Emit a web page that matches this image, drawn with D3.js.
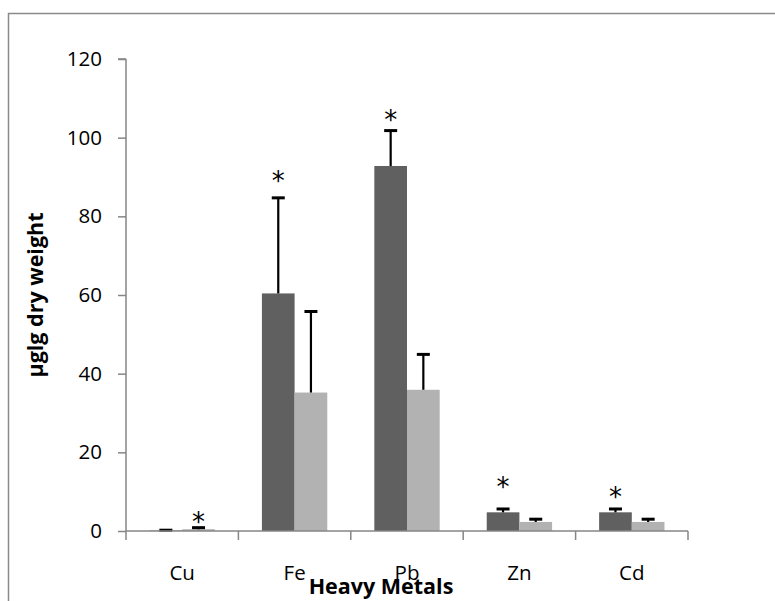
<!DOCTYPE html>
<html>
<head>
<meta charset="utf-8">
<script src="https://cdn.jsdelivr.net/npm/d3@7"></script>
<style>
  body { margin: 0; background: white; }
  text { font-family: "Open Sans", Lato, sans-serif; }
</style>
</head>
<body>
<div id="chart"></div>
<script>
// values
const metals = ["Cu", "Fe", "Pb", "Zn", "Cd"];
const seriesNames = ["dark", "light"];
const darkValues = [0.1, 60.4, 92.8, 4.75, 4.75];
const darkErrors = [0.1, 24.3, 9.0, 0.85, 0.85];
const lightValues = [0.45, 35.2, 35.9, 2.3, 2.3];
const lightErrors = [0.4, 20.6, 9.0, 0.7, 0.7];
// asterisk: which series it sits over and its height in data units
const starSeries = ["light", "dark", "dark", "dark", "dark"];
const starValues = [3.3, 90, 105.5, 12.2, 9.7];
const yTicks = [0, 20, 40, 60, 80, 100, 120];

const width = 775, height = 601;
const margin = {top: 59, right: 87, bottom: 70, left: 126};

const svg = d3.select("#chart").append("svg")
  .attr("width", width)
  .attr("height", height);

// outer frame
svg.append("rect")
  .attr("x", 8.5).attr("y", 13.5)
  .attr("width", 900).attr("height", 800)
  .attr("fill", "none")
  .attr("stroke", "#8a8a8a")
  .attr("stroke-width", 1.5);

const xScale = d3.scaleBand()
  .domain(metals)
  .range([margin.left, width - margin.right]);

const xInner = d3.scaleBand()
  .domain(seriesNames)
  .range([0, xScale.bandwidth()])
  .paddingOuter(0.72)
  .paddingInner(0);

const yScale = d3.scaleLinear()
  .domain([0, 120])
  .range([height - margin.bottom, margin.top]);

const colors = {dark: "#606060", light: "#b2b2b2"};

const rows = [];
metals.forEach((m, i) => {
  rows.push({metal: m, s: "dark", v: darkValues[i], e: darkErrors[i]});
  rows.push({metal: m, s: "light", v: lightValues[i], e: lightErrors[i]});
});

// bars
svg.append("g").selectAll("rect")
  .data(rows)
  .enter().append("rect")
    .attr("x", d => xScale(d.metal) + xInner(d.s))
    .attr("y", d => yScale(d.v))
    .attr("width", xInner.bandwidth())
    .attr("height", d => yScale(0) - yScale(d.v))
    .attr("fill", d => colors[d.s]);

// error bars (upper only)
const err = svg.append("g").attr("stroke", "black").attr("stroke-width", 2.2);
rows.forEach(d => {
  const cx = xScale(d.metal) + xInner(d.s) + xInner.bandwidth() / 2;
  err.append("line")
    .attr("x1", cx).attr("x2", cx)
    .attr("y1", yScale(d.v)).attr("y2", yScale(d.v + d.e));
  err.append("line")
    .attr("x1", cx - 6.5).attr("x2", cx + 6.5)
    .attr("y1", yScale(d.v + d.e)).attr("y2", yScale(d.v + d.e))
    .attr("stroke-width", 3);
});

// asterisks
svg.append("g").selectAll("text")
  .data(metals)
  .enter().append("text")
    .attr("x", (d, i) => xScale(d) + xInner(starSeries[i]) + xInner.bandwidth() / 2)
    .attr("y", (d, i) => yScale(starValues[i]) + 13)
    .attr("text-anchor", "middle")
    .style("font-family", "'DejaVu Sans', sans-serif")
    .style("font-size", "26px")
    .text("*");

// y axis
const yAxis = svg.append("g")
  .attr("transform", `translate(${margin.left},0)`)
  .call(d3.axisLeft(yScale).tickValues(yTicks).tickSize(8).tickPadding(16));
yAxis.selectAll("line, path").attr("stroke", "#868686").attr("stroke-width", 1.5);
yAxis.select(".domain").attr("d", `M0,${yScale(120)}H-8M0,${yScale(120)}V${yScale(0)}`);
yAxis.selectAll("text").style("font-size", "20.5px").style("font-family", "'Open Sans', sans-serif").attr("fill", "black");

// x axis
const xAxis = svg.append("g")
  .attr("transform", `translate(0,${yScale(0)})`)
  .call(d3.axisBottom(xScale).tickSize(0).tickPadding(34));
xAxis.select(".domain").attr("stroke", "#868686").attr("stroke-width", 1.5)
  .attr("d", `M${margin.left},0H${width - margin.right}`);
xAxis.selectAll("text").style("font-size", "20.5px").style("font-family", "'Open Sans', sans-serif").attr("fill", "black");
// tick marks on the band boundaries
xAxis.selectAll(".bound")
  .data(metals.concat(["end"]))
  .enter().append("line")
    .attr("x1", (d, i) => i < metals.length ? xScale(d) : xScale(metals[metals.length - 1]) + xScale.bandwidth())
    .attr("x2", (d, i) => i < metals.length ? xScale(d) : xScale(metals[metals.length - 1]) + xScale.bandwidth())
    .attr("y1", 0).attr("y2", 9)
    .attr("stroke", "#868686").attr("stroke-width", 1.5);

// axis titles
svg.append("text")
  .attr("x", 381).attr("y", 594)
  .attr("text-anchor", "middle")
  .style("font-size", "21.5px").style("font-weight", "bold")
  .text("Heavy Metals");

svg.append("text")
  .attr("transform", "translate(43,295) rotate(-90)")
  .attr("text-anchor", "middle")
  .style("font-size", "21.5px").style("font-weight", "bold")
  .text("µglg dry weight");
</script>
</body>
</html>
